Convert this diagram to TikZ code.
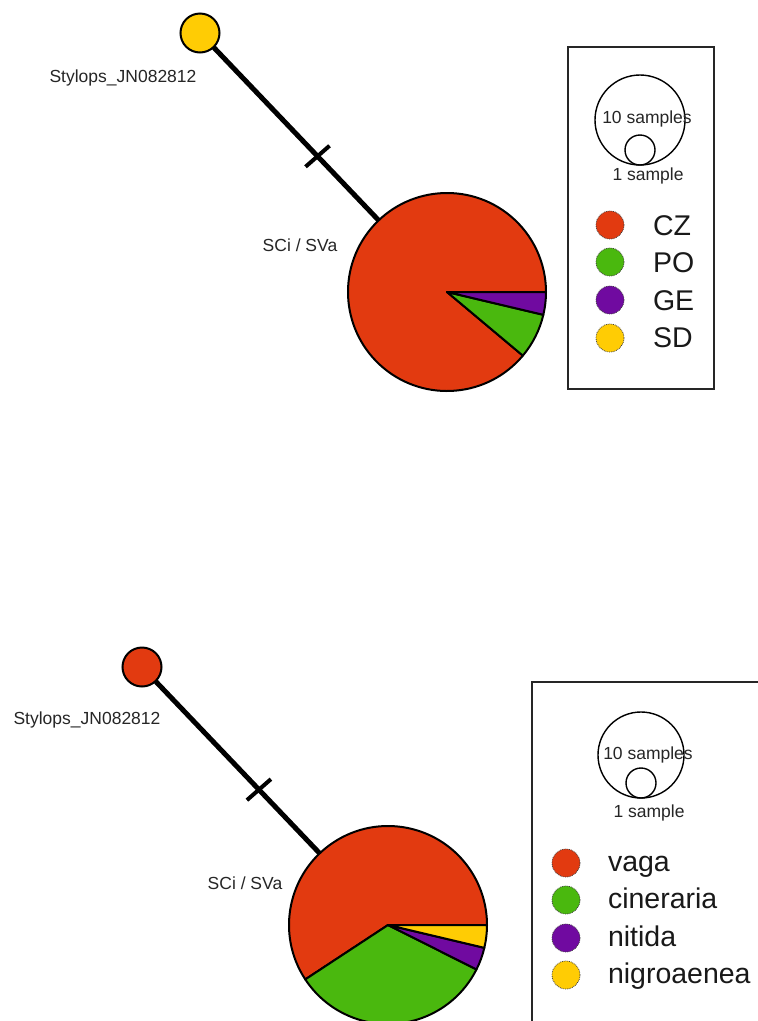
\documentclass[tikz,border=0pt]{standalone}
\usepackage{fontspec}
\setmainfont{Liberation Sans}
\definecolor{czred}{RGB}{226,58,16}
\definecolor{pogreen}{RGB}{74,184,14}
\definecolor{gepurple}{RGB}{112,10,160}
\definecolor{sdyellow}{RGB}{255,204,4}
\begin{document}
\begin{tikzpicture}[x=1pt,y=-1pt,
  every node/.style={inner sep=0pt,outer sep=0pt},
  smalltxt/.style={font=\fontsize{17.5}{20}\selectfont,text=black!85},
  bigtxt/.style={font=\fontsize{28.5}{32}\selectfont,text=black!90},
  hapnode/.style={circle,draw=black,line width=2pt,minimum size=39pt},
  pienode/.style={circle,minimum size=198pt},
  slice/.style={draw=black,line width=2pt,line join=round},
  branch/.style={line width=5pt,black},
  tick/.style={line width=4pt,black},
  legdot/.style={circle,minimum size=28pt,draw=black!75,densely dotted,line width=0.8pt},
  sizering/.style={circle,draw=black,line width=1.4pt},
  legframe/.style={draw=black!85,line width=1.8pt}]
\useasboundingbox (0,0) rectangle (758,1021);
\clip (0,0) rectangle (758,1021);
\fill[white] (0,0) rectangle (758,1021);

% ---------- upper network: sampling regions ----------
\node[hapnode,fill=sdyellow] (jn1) at (200,33) {};
\node[smalltxt] (jn1lab) at (123,78) {Stylops\_JN082812};
\node[pienode] (pie1) at (447,292) {};
\draw[branch] (jn1) -- (pie1) coordinate[pos=0.63] (mut1);
\draw[tick] ([shift={(-12,10.5)}]mut1) -- ([shift={(12,-10.5)}]mut1);
\filldraw[slice,fill=czred] (pie1.center) -- ++(40:99) arc[start angle=40,end angle=360,radius=99] -- cycle;
\filldraw[slice,fill=pogreen] (pie1.center) -- ++(13.33:99) arc[start angle=13.33,end angle=40,radius=99] -- cycle;
\filldraw[slice,fill=gepurple] (pie1.center) -- ++(0:99) arc[start angle=0,end angle=13.33,radius=99] -- cycle;
\node[smalltxt] (pie1lab) at (300,245) {SCi / SVa};

% legend
\draw[legframe] (568,47) rectangle (714,389);
\node[sizering,minimum size=90pt] (ten1) at (640,120) {};
\node[sizering,minimum size=30pt] (one1) at (640,150) {};
\node[smalltxt] (ten1lab) at (647,119) {10 samples};
\node[smalltxt] (one1lab) at (648,176) {1 sample};
\node[legdot,fill=czred] (d11) at (610,225) {};
\node[legdot,fill=pogreen] (d12) at (610,262) {};
\node[legdot,fill=gepurple] (d13) at (610,300) {};
\node[legdot,fill=sdyellow] (d14) at (610,338) {};
\node[bigtxt,anchor=base west] (l11) at (653,235) {CZ};
\node[bigtxt,anchor=base west] (l12) at (653,272) {PO};
\node[bigtxt,anchor=base west] (l13) at (653,310) {GE};
\node[bigtxt,anchor=base west] (l14) at (653,347) {SD};

% ---------- lower network: host species ----------
\node[hapnode,fill=czred] (jn2) at (142,667) {};
\node[smalltxt] (jn2lab) at (87,720) {Stylops\_JN082812};
\node[pienode] (pie2) at (388,925) {};
\draw[branch] (jn2) -- (pie2) coordinate[pos=0.63] (mut2);
\draw[tick] ([shift={(-12,10.5)}]mut2) -- ([shift={(12,-10.5)}]mut2);
\filldraw[slice,fill=czred] (pie2.center) -- ++(146.67:99) arc[start angle=146.67,end angle=360,radius=99] -- cycle;
\filldraw[slice,fill=pogreen] (pie2.center) -- ++(26.67:99) arc[start angle=26.67,end angle=146.67,radius=99] -- cycle;
\filldraw[slice,fill=gepurple] (pie2.center) -- ++(13.33:99) arc[start angle=13.33,end angle=26.67,radius=99] -- cycle;
\filldraw[slice,fill=sdyellow] (pie2.center) -- ++(0:99) arc[start angle=0,end angle=13.33,radius=99] -- cycle;
\node[smalltxt] (pie2lab) at (245,883) {SCi / SVa};

% legend
\draw[legframe] (532,682) rectangle (800,1060);
\node[sizering,minimum size=86pt] (ten2) at (641,755) {};
\node[sizering,minimum size=30pt] (one2) at (641,783) {};
\node[smalltxt] (ten2lab) at (648,755) {10 samples};
\node[smalltxt] (one2lab) at (649,813) {1 sample};
\node[legdot,fill=czred] (d21) at (566,863) {};
\node[legdot,fill=pogreen] (d22) at (566,900) {};
\node[legdot,fill=gepurple] (d23) at (566,938) {};
\node[legdot,fill=sdyellow] (d24) at (566,975) {};
\node[bigtxt,anchor=base west] (l21) at (608,871) {vaga};
\node[bigtxt,anchor=base west] (l22) at (608,908.5) {cineraria};
\node[bigtxt,anchor=base west] (l23) at (608,946) {nitida};
\node[bigtxt,anchor=base west] (l24) at (608,983.5) {nigroaenea};
\end{tikzpicture}
\end{document}
